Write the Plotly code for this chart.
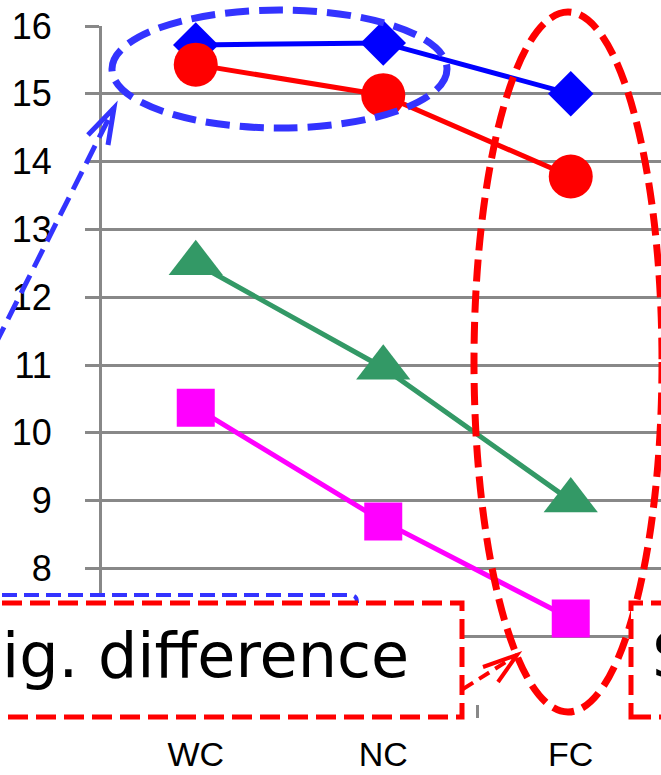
import plotly.graph_objects as go

# ---- data ----
categories = ["WC", "NC", "FC"]
series_blue = [15.72, 15.75, 15.0]
series_red = [15.43, 14.98, 13.78]
series_green = [12.5, 10.96, 9.0]
series_magenta = [10.37, 8.69, 7.26]
y_ticks = [6, 7, 8, 9, 10, 11, 12, 13, 14, 15, 16]
y_tick_text = ["", "", "8", "9", "10", "11", "12", "13", "14", "15", "16"]

W, H = 661, 775
L, R, T, B = 102, 661, 26, 704


def px(x):
    return (x - L) / (R - L)


def py(y):
    return (B - y) / (B - T)


fig = go.Figure()

styles = [
    (series_blue, "#0000FF", "diamond", 35),
    (series_red, "#FF0000", "circle", 44),
    (series_green, "#339966", "triangle-up", 47),
    (series_magenta, "#FF00FF", "square", 38),
]
for vals, col, sym, sz in styles:
    fig.add_trace(go.Scatter(
        x=categories, y=vals, mode="lines+markers",
        line=dict(color=col, width=5),
        marker=dict(symbol=sym, size=sz, color=col, line=dict(width=0)),
        showlegend=False, cliponaxis=False,
    ))

shapes = []
# blue dashed ellipse around the top-left points
shapes.append(dict(type="circle", xref="paper", yref="paper",
                   x0=px(112), x1=px(447), y0=py(128), y1=py(10),
                   line=dict(color="#3333FF", width=7, dash="24px,10px"), layer="above"))
# blue dashed arrow
shapes.append(dict(type="path", xref="paper", yref="paper",
                   path=f"M{px(-5)},{py(345)} L{px(114)},{py(108)}",
                   line=dict(color="#3333FF", width=5, dash="20px,9px"), layer="above"))
shapes.append(dict(type="path", xref="paper", yref="paper",
                   path=f"M{px(88)},{py(135)} L{px(114)},{py(108)} L{px(108)},{py(145)}",
                   line=dict(color="#3333FF", width=5), layer="above"))
# red dashed ellipse around FC
shapes.append(dict(type="circle", xref="paper", yref="paper",
                   x0=px(474), x1=px(662), y0=py(712), y1=py(12),
                   line=dict(color="#FF0000", width=7, dash="22px,9px"), layer="above"))
# blue box (behind)
shapes.append(dict(type="path", xref="paper", yref="paper",
                   path=(f"M{px(-20)},{py(595)} L{px(350)},{py(595)} "
                         f"Q{px(357)},{py(595)} {px(357)},{py(602)} "
                         f"L{px(357)},{py(712)} L{px(-20)},{py(712)} Z"),
                   fillcolor="white", line=dict(color="#3333FF", width=4, dash="15px,7px"), layer="above"))
# red left box
shapes.append(dict(type="rect", xref="paper", yref="paper",
                   x0=px(-20), x1=px(462), y0=py(717), y1=py(603),
                   fillcolor="white", line=dict(color="#FF0000", width=5, dash="20px,8px"), layer="above"))
# red right box
shapes.append(dict(type="rect", xref="paper", yref="paper",
                   x0=px(631), x1=px(720), y0=py(717), y1=py(603),
                   fillcolor="white", line=dict(color="#FF0000", width=5, dash="20px,8px"), layer="above"))
# small red arrow
shapes.append(dict(type="path", xref="paper", yref="paper",
                   path=f"M{px(463)},{py(689)} L{px(517)},{py(655)}",
                   line=dict(color="#FF0000", width=4, dash="12px,7px"), layer="above"))
shapes.append(dict(type="path", xref="paper", yref="paper",
                   path=f"M{px(483)},{py(667)} L{px(517)},{py(655)} L{px(498)},{py(682)}",
                   line=dict(color="#FF0000", width=4), layer="above"))

annotations = [
    dict(text="ig. difference", xref="paper", yref="paper",
         x=px(411), y=py(655), xanchor="right", yanchor="middle", showarrow=False,
         font=dict(family="DejaVu Sans", size=62, color="black")),
    dict(text="S", xref="paper", yref="paper",
         x=px(650), y=py(655), xanchor="left", yanchor="middle", showarrow=False,
         font=dict(family="DejaVu Sans", size=62, color="black")),
]

fig.update_layout(
    width=W, height=H,
    margin=dict(l=L, r=W - R, t=T, b=H - B, autoexpand=False),
    paper_bgcolor="white", plot_bgcolor="white",
    shapes=shapes, annotations=annotations,
    xaxis=dict(type="category", range=[-0.5, -0.5 + 3 * (R - L) / 562.5],
               tickson="boundaries", ticks="outside", ticklen=13, tickwidth=3,
               tickcolor="#888888", showgrid=False, showline=False, zeroline=False,
               tickfont=dict(family="Liberation Sans", size=34, color="black"),
               ticklabelstandoff=27, automargin=False),
    yaxis=dict(range=[6, 16], tickvals=y_ticks, ticktext=y_tick_text,
               ticks="outside", ticklen=14, tickwidth=3,
               tickcolor="#888888", showgrid=True, gridcolor="#888888", gridwidth=3,
               showline=True, linecolor="#888888", linewidth=3, zeroline=False,
               tickfont=dict(family="Liberation Sans", size=36, color="black"),
               ticklabelstandoff=26, automargin=False),
)

fig.write_html("out.html")
